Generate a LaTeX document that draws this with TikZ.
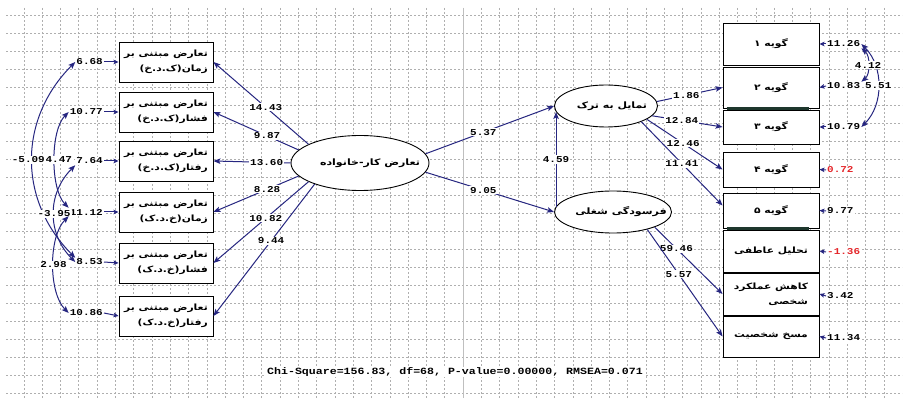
\documentclass[tikz,border=0pt]{standalone}
\usepackage{fontspec}
\usetikzlibrary{shapes.geometric,arrows.meta,calc}
\TeXXeTstate=1
\newfontfamily\fa[Script=Arabic,FakeStretch=1.25]{DejaVu Sans}
\newfontfamily\numfont[FakeStretch=1.22]{Liberation Mono}
\definecolor{pathblue}{RGB}{38,38,128}
\definecolor{gridgray}{RGB}{175,175,175}
\definecolor{negred}{RGB}{228,38,42}
\definecolor{ruledark}{RGB}{30,55,45}
\tikzset{
  gridline/.style={draw=gridgray, line width=0.55pt, dash pattern=on 2pt off 2pt},
  gridaxis/.style={draw=gridgray!80, line width=0.6pt},
  tip/.style={-{Stealth[length=7pt,width=5.5pt,inset=1.5pt]}},
  conn/.style={draw=pathblue, line width=1pt, tip},
  cov/.style={draw=pathblue, line width=1pt,
    {Stealth[length=7pt,width=5.5pt,inset=1.5pt]}-{Stealth[length=7pt,width=5.5pt,inset=1.5pt]}},
  errarrow/.style={draw=pathblue, line width=1pt, -{Stealth[length=5pt,width=4.5pt,inset=1pt]}},
  ind/.style={draw, rectangle, line width=0.9pt, fill=white, minimum width=94pt,
    minimum height=40pt, inner sep=3pt, align=right,
    font=\fa\bfseries\fontsize{8.6}{15}\selectfont},
  item/.style={ind, minimum width=96pt},
  lat/.style={draw, ellipse, line width=0.9pt, fill=white, inner sep=0pt,
    font=\fa\bfseries\fontsize{8.8}{12}\selectfont},
  tv/.style={fill=white, inner sep=1pt, text=black,
    font=\numfont\bfseries\fontsize{9}{10}\selectfont},
  ev/.style={tv},
}
\begin{document}
\begin{tikzpicture}[x=1pt,y=1pt]
\useasboundingbox (0,0) rectangle (904,-403);
\fill[white] (0,0) rectangle (904,-403);

% background grid
\foreach \gy in {15,33,...,393} \draw[gridline] (6,-\gy) -- (902,-\gy);
\foreach \k in {-24,...,23} \draw[gridline] ({463+18.3*\k},-8) -- ({463+18.3*\k},-398);
\draw[gridaxis] (463,-8) -- (463,-398);

% latent variables (text kept off-centre to the right, zero-width so the ellipse keeps its size)
\node[lat, minimum width=138pt, minimum height=55pt] (wfc) at (360,-163)
  {\makebox[0pt]{\hspace*{20pt}\beginR تعارض کار-خانواده\endR}};
\node[lat, minimum width=103pt, minimum height=42pt] (quit) at (606,-106)
  {\makebox[0pt]{\hspace*{12pt}\beginR تمایل به ترک\endR}};
\node[lat, minimum width=117pt, minimum height=42pt] (burn) at (613,-212)
  {\makebox[0pt]{\hspace*{16pt}\beginR فرسودگی شغلی\endR}};

% indicators of work-family conflict
\node[ind] (b1) at (166,-62)  {\beginR تعارض مبتنی بر\endR\\\beginR زمان(ک.د.خ)\endR};
\node[ind] (b2) at (166,-112) {\beginR تعارض مبتنی بر\endR\\\beginR فشار(ک.د.خ)\endR};
\node[ind] (b3) at (166,-161) {\beginR تعارض مبتنی بر\endR\\\beginR رفتار(ک.د.خ)\endR};
\node[ind] (b4) at (166,-212) {\beginR تعارض مبتنی بر\endR\\\beginR زمان(خ.د.ک)\endR};
\node[ind] (b5) at (166,-263) {\beginR تعارض مبتنی بر\endR\\\beginR فشار(خ.د.ک)\endR};
\node[ind] (b6) at (166,-316) {\beginR تعارض مبتنی بر\endR\\\beginR رفتار(خ.د.ک)\endR};

% indicators on the right
\node[item, minimum height=42pt] (r1) at (771,-44)    {\beginR گویه ۱\endR};
\node[item, minimum height=41pt] (r2) at (771,-87.5)  {\beginR گویه ۲\endR};
\node[item, minimum height=34pt] (r3) at (771,-127)   {\beginR گویه ۳\endR};
\node[item, minimum height=35pt] (r4) at (771,-169.5) {\beginR گویه ۴\endR};
\node[item, minimum height=35pt] (r5) at (771,-210.5) {\beginR گویه ۵\endR};
\node[item, minimum height=42pt] (r6) at (771,-251)   {\beginR تحلیل عاطفی\endR};
\node[item, minimum height=42pt] (r7) at (771,-294)   {\beginR کاهش عملکرد\endR\\\beginR شخصی\endR};
\node[item, minimum height=41pt] (r8) at (771,-336.5) {\beginR مسخ شخصیت\endR};
\draw[draw=ruledark, line width=2.4pt] ([xshift=4pt,yshift=1pt]r3.north west) -- ([xshift=-10pt,yshift=1pt]r3.north east);
\draw[draw=ruledark, line width=2.4pt] ([xshift=4pt,yshift=1pt]r6.north west) -- ([xshift=-10pt,yshift=1pt]r6.north east);

% loadings of work-family conflict
\draw[conn] (wfc.160) -- (b1.east) node[tv,pos=0.45] {14.43};
\draw[conn] (wfc.168) -- (b2.east) node[tv,pos=0.37] {9.87};
\draw[conn] (wfc.180) -- (b3.east) node[tv,pos=0.31] {13.60};
\draw[conn] (wfc.192) -- (b4.east) node[tv,pos=0.37] {8.28};
\draw[conn] (wfc.200) -- (b5.east) node[tv,pos=0.45] {10.82};
\draw[conn] (wfc.205) -- (b6.east) node[tv,pos=0.43] {9.44};

% structural paths
\draw[conn] (wfc.8) -- (quit.west) node[tv,pos=0.45] {5.37};
\draw[conn] (wfc.-8) -- (burn.west) node[tv,pos=0.45] {9.05};
\draw[conn] ([xshift=2pt,yshift=5pt]burn.west) -- ([xshift=2pt,yshift=-6pt]quit.west)
  node[tv,midway] {4.59};

% loadings on the right
\draw[conn] (quit.5) -- (r2.west) node[tv,pos=0.45] {1.86};
\draw[conn] (quit.-12) -- (r3.west) node[tv,pos=0.42] {12.84};
\draw[conn] (quit.-18) -- (r4.west) node[tv,pos=0.48] {12.46};
\draw[conn] (quit.-24) -- ([yshift=5pt]r5.west) node[tv,pos=0.5] {11.41};
\draw[conn] (burn.-20) -- (r7.west) node[tv,pos=0.32] {59.46};
\draw[conn] (burn.-27) -- (r8.west) node[tv,pos=0.42] {5.57};

% error terms, left
\node[ev, anchor=east] (e1) at (104,-62)  {6.68};
\node[ev, anchor=east] (e2) at (104,-112) {10.77};
\node[ev, anchor=east] (e3) at (104,-161) {7.64};
\node[ev, anchor=east] (e4) at (104,-212) {11.12};
\node[ev, anchor=east] (e5) at (104,-262) {8.53};
\node[ev, anchor=east] (e6) at (104,-313) {10.86};
\foreach \i in {1,...,6} \draw[errarrow] (e\i.east) -- (b\i.west);

% error covariances, left
\draw[cov] (e2.west) to[out=225,in=135,looseness=0.7] node[tv,xshift=4pt]{4.47} (e4.north west);
\draw[cov] (e1.west) to[out=225,in=135,looseness=1.06] node[tv,xshift=-4pt]{-5.09} (e5.north west);
\draw[cov] (e3.south west) to[out=225,in=135,looseness=1.06] node[tv]{-3.95} (e5.west);
\draw[cov] (e4.south west) to[out=225,in=135,looseness=0.76] node[tv]{2.98} (e6.west);

% error terms, right
\node[ev, anchor=west] (f1) at (826,-44)    {11.26};
\node[ev, anchor=west] (f2) at (826,-86)    {10.83};
\node[ev, anchor=west] (f3) at (826,-127)   {10.79};
\node[ev, anchor=west, text=negred] (f4) at (826,-170) {0.72};
\node[ev, anchor=west] (f5) at (826,-211)   {9.77};
\node[ev, anchor=west, text=negred] (f6) at (826,-252) {-1.36};
\node[ev, anchor=west] (f7) at (826,-296)   {3.42};
\node[ev, anchor=west] (f8) at (826,-338)   {11.34};
\foreach \i in {1,...,8} \draw[errarrow] (f\i.west) -- (r\i.east);

% error covariances, right
\draw[cov] (f1.east) to[out=-45,in=45,looseness=0.98] node[tv]{5.51} (f3.east);
\draw[cov] (f1.south east) to[out=-40,in=40,looseness=0.9] node[tv]{4.12} (f2.north east);

% fit statistics
\node[tv, font=\numfont\bfseries\fontsize{9.5}{11}\selectfont] (fit) at (455,-372)
  {Chi-Square=156.83, df=68, P-value=0.00000, RMSEA=0.071};
\end{tikzpicture}
\end{document}
